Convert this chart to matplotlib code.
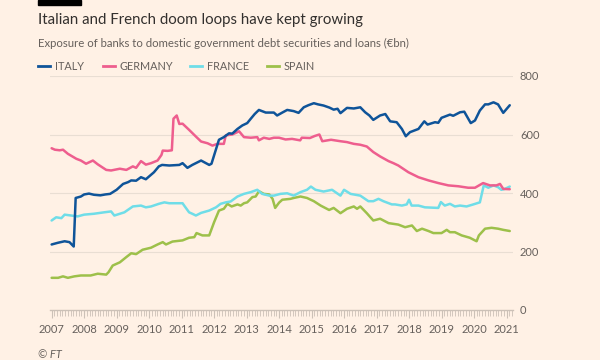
import matplotlib
matplotlib.use("Agg")
import matplotlib.pyplot as plt
import numpy as np
from matplotlib.lines import Line2D

# ---- data (decimal years, €bn) ----
italy_x = [2007.0, 2007.2, 2007.4, 2007.55, 2007.68, 2007.74, 2007.9, 2008.0, 2008.15, 2008.3, 2008.5, 2008.65, 2008.8,
           2009.0, 2009.2, 2009.35, 2009.45, 2009.6, 2009.75, 2009.9, 2010.15, 2010.3, 2010.4, 2010.62, 2010.93,
           2011.03, 2011.18, 2011.33, 2011.6, 2011.85, 2011.92, 2012.15, 2012.3, 2012.46, 2012.56, 2012.72, 2012.87,
           2013.02, 2013.13, 2013.25, 2013.38, 2013.59, 2013.84, 2013.94, 2014.1, 2014.25, 2014.45, 2014.6, 2014.76,
           2014.9, 2015.07, 2015.2, 2015.37, 2015.55, 2015.68, 2015.8, 2015.89, 2016.09, 2016.3, 2016.5, 2016.65,
           2016.78, 2016.9, 2017.11, 2017.27, 2017.42, 2017.62, 2017.78, 2017.9, 2018.03, 2018.29, 2018.47, 2018.57,
           2018.8, 2018.9, 2019.0, 2019.26, 2019.36, 2019.57, 2019.7, 2019.9, 2020.03, 2020.18, 2020.34, 2020.44,
           2020.6, 2020.74, 2020.9, 2021.1]
italy_y = [224, 230, 235, 232, 217, 383, 388, 395, 398, 394, 392, 395, 397,
           411, 431, 437, 443, 442, 454, 447, 471, 491, 496, 494, 496,
           502, 486, 496, 511, 496, 500, 582, 591, 604, 603, 619, 631,
           639, 654, 670, 684, 675, 675, 665, 675, 684, 680, 674, 693,
           700, 707, 703, 699, 692, 685, 688, 673, 691, 689, 693, 676,
           665, 650, 665, 670, 645, 642, 619, 594, 608, 619, 645, 634,
           642, 640, 657, 668, 664, 676, 678, 639, 648, 682, 703, 703,
           710, 703, 674, 700]

germany_x = [2007.0, 2007.1, 2007.25, 2007.35, 2007.5, 2007.76, 2007.9, 2008.06, 2008.27, 2008.42, 2008.68, 2008.83,
             2009.1, 2009.3, 2009.5, 2009.6, 2009.75, 2009.9, 2010.06, 2010.26, 2010.38, 2010.42, 2010.57, 2010.7,
             2010.75, 2010.85, 2010.93, 2011.03, 2011.23, 2011.44, 2011.6, 2011.8, 2011.95, 2012.1, 2012.3, 2012.36,
             2012.56, 2012.77, 2012.92, 2013.13, 2013.33, 2013.38, 2013.53, 2013.7, 2013.84, 2014.0, 2014.2, 2014.4,
             2014.65, 2014.7, 2014.95, 2015.1, 2015.24, 2015.33, 2015.6, 2015.89, 2016.09, 2016.3, 2016.5, 2016.7,
             2016.9, 2017.11, 2017.37, 2017.52, 2017.67, 2017.98, 2018.29, 2018.6, 2018.9, 2019.21, 2019.52, 2019.82,
             2020.03, 2020.28, 2020.49, 2020.69, 2020.8, 2020.9, 2021.1]
germany_y = [553, 548, 546, 548, 534, 517, 511, 500, 511, 498, 479, 477,
             483, 479, 491, 486, 509, 497, 502, 511, 530, 545, 544, 546,
             654, 665, 636, 637, 616, 593, 576, 570, 562, 568, 568, 597,
             600, 611, 591, 589, 591, 580, 589, 585, 589, 589, 583, 585,
             580, 589, 588, 595, 600, 577, 582, 577, 574, 568, 565, 559,
             540, 525, 509, 502, 494, 471, 454, 443, 434, 426, 423, 418,
             418, 434, 426, 426, 431, 414, 413]

france_x = [2007.0, 2007.14, 2007.3, 2007.4, 2007.6, 2007.8, 2008.0, 2008.3, 2008.62, 2008.83, 2008.93, 2009.24,
            2009.5, 2009.75, 2009.9, 2010.06, 2010.3, 2010.47, 2010.62, 2011.03, 2011.08, 2011.23, 2011.33, 2011.44,
            2011.6, 2011.85, 2012.06, 2012.2, 2012.36, 2012.51, 2012.72, 2012.92, 2013.13, 2013.33, 2013.48, 2013.7,
            2013.84, 2014.04, 2014.25, 2014.45, 2014.66, 2014.86, 2014.98, 2015.12, 2015.37, 2015.63, 2015.89,
            2016.0, 2016.2, 2016.5, 2016.75, 2016.9, 2017.06, 2017.21, 2017.47, 2017.57, 2017.78, 2017.93, 2018.0,
            2018.08, 2018.29, 2018.49, 2018.9, 2018.98, 2019.1, 2019.26, 2019.41, 2019.57, 2019.77, 2019.98,
            2020.18, 2020.3, 2020.44, 2020.6, 2020.74, 2020.84, 2020.95, 2021.1]
france_y = [306, 317, 314, 326, 323, 320, 326, 329, 334, 337, 323, 334,
            354, 357, 351, 354, 363, 368, 365, 365, 357, 334, 329, 323,
            332, 340, 351, 363, 368, 371, 388, 397, 403, 411, 397, 391,
            391, 397, 399, 391, 403, 411, 422, 411, 405, 411, 391,
            411, 397, 391, 372, 372, 380, 372, 361, 361, 357, 361, 377,
            357, 357, 351, 349, 369, 357, 363, 354, 357, 354, 361,
            368, 426, 418, 426, 420, 411, 414, 422]

spain_x = [2007.0, 2007.2, 2007.35, 2007.5, 2007.7, 2007.9, 2008.2, 2008.42, 2008.68, 2008.75, 2008.88, 2009.1,
           2009.3, 2009.45, 2009.6, 2009.8, 2010.06, 2010.26, 2010.42, 2010.52, 2010.72, 2011.03, 2011.23, 2011.39,
           2011.46, 2011.64, 2011.85, 2012.0, 2012.15, 2012.3, 2012.41, 2012.54, 2012.72, 2012.82, 2012.92, 2013.02,
           2013.18, 2013.28, 2013.38, 2013.53, 2013.7, 2013.8, 2013.88, 2014.0, 2014.1, 2014.35, 2014.45, 2014.66,
           2014.86, 2015.07, 2015.28, 2015.54, 2015.68, 2015.89, 2016.09, 2016.3, 2016.4, 2016.5, 2016.7, 2016.9,
           2017.11, 2017.37, 2017.67, 2017.88, 2018.09, 2018.24, 2018.4, 2018.6, 2018.75, 2019.0, 2019.16, 2019.26,
           2019.41, 2019.62, 2019.87, 2020.08, 2020.15, 2020.34, 2020.54, 2020.74, 2020.9, 2021.1]
spain_y = [110, 110, 115, 110, 115, 118, 118, 124, 121, 129, 152, 163,
           181, 194, 191, 206, 213, 224, 232, 224, 234, 238, 247, 249,
           263, 255, 255, 300, 340, 346, 363, 354, 361, 357, 365, 368,
           386, 388, 406, 397, 395, 380, 349, 367, 377, 380, 383, 388,
           383, 372, 357, 342, 349, 331, 346, 354, 346, 354, 331, 306,
           312, 297, 292, 283, 289, 270, 278, 270, 263, 263, 274, 266,
           266, 255, 247, 235, 255, 278, 281, 278, 274, 270]

series_names = ["ITALY", "GERMANY", "FRANCE", "SPAIN"]
year_ticks = list(range(2007, 2022))
y_ticks = [0, 200, 400, 600, 800]

title = "Italian and French doom loops have kept growing"
subtitle = "Exposure of banks to domestic government debt securities and loans (€bn)"
source = "© FT"

# ---- style ----
BG = "#FFF1E5"
colors = ["#0F5499", "#EE5E8E", "#6FDDE8", "#9DC04A"]
GRID = "#E9DED3"
AXIS = "#CCC1B7"
TXT = "#66605C"
FONT = ["Lato", "DejaVu Sans"]
plt.rcParams["font.family"] = FONT

fig = plt.figure(figsize=(6, 3.6), dpi=100, facecolor=BG)
ax = fig.add_axes([50/600, 1 - 310/360, (513-50)/600, (310-76)/360], facecolor=BG)

data = [(italy_x, italy_y), (germany_x, germany_y), (france_x, france_y), (spain_x, spain_y)]
for idx in [3, 2, 1, 0]:
    xs, ys = data[idx]
    ax.plot(xs, ys, color=colors[idx], lw=1.8, solid_joinstyle="round", solid_capstyle="round", zorder=3 + (3 - idx))

ax.set_xlim(2006.95, 2021.2)
ax.set_ylim(0, 800)

for s in ["top", "right", "left"]:
    ax.spines[s].set_visible(False)
ax.spines["bottom"].set_color(AXIS)
ax.spines["bottom"].set_linewidth(1.0)

ax.set_yticks(y_ticks)
ax.set_yticklabels([str(v) for v in y_ticks])
ax.yaxis.tick_right()
ax.tick_params(axis="y", length=0, pad=5, labelsize=8, labelcolor=TXT)
for v in y_ticks[1:]:
    ax.axhline(v, color=GRID, lw=0.8, zorder=1)

ax.set_xticks(year_ticks)
ax.set_xticklabels([str(v) for v in year_ticks])
months = [2007 + m / 12 for m in range(0, 14 * 12 + 3)]
ax.set_xticks(months, minor=True)
ax.tick_params(axis="x", which="major", length=6, width=0.8, color=AXIS, pad=4, labelsize=8, labelcolor=TXT)
ax.tick_params(axis="x", which="minor", length=4, width=0.6, color=AXIS)

# top black bar
fig.patches.append(plt.Rectangle((38/600, 1 - 5/360), 43/600, 5/360, transform=fig.transFigure,
                                 color="#000000", zorder=10))
fig.text(38/600, 1 - 20/360, title, fontsize=10.8, color="#33302E", va="center", ha="left")
fig.text(38/600, 1 - 43/360, subtitle, fontsize=8.2, color=TXT, va="center", ha="left")

# legend
leg_line_x = [38, 103, 190, 267]
for name, c, lx in zip(series_names, colors, leg_line_x):
    fig.add_artist(Line2D([lx/600, (lx + 12)/600], [1 - 66/360, 1 - 66/360], color=c, lw=2,
                          transform=fig.transFigure))
    fig.text((lx + 17)/600, 1 - 66/360, name, fontsize=7.8, color=TXT, va="center", ha="left")

fig.text(38/600, 1 - 354/360, source, fontsize=8, color=TXT, va="center", ha="left", style="italic")

fig.savefig("out.png", dpi=100, facecolor=BG)
